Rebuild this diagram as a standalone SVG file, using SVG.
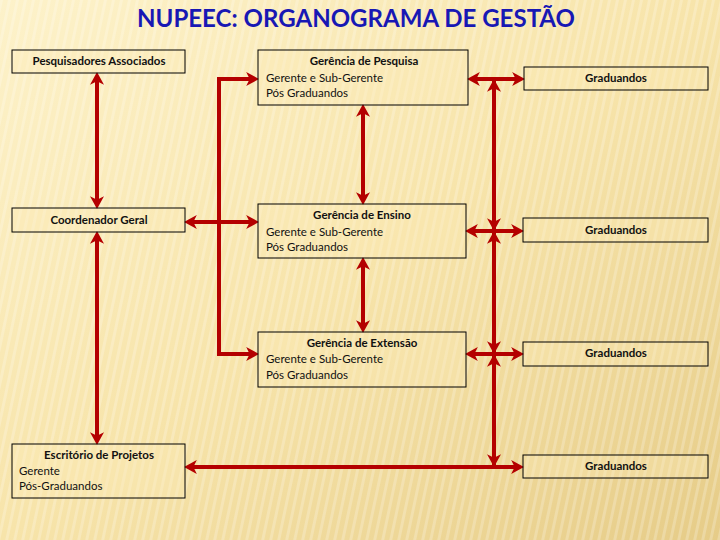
<svg xmlns="http://www.w3.org/2000/svg" width="720" height="540" viewBox="0 0 720 540">
<defs>
<linearGradient id="bg" x1="0" y1="0" x2="1" y2="1">
<stop offset="0" stop-color="#FDF2CA"/>
<stop offset="0.5" stop-color="#F7E4AA"/>
<stop offset="1" stop-color="#E6CC88"/>
</linearGradient>
<pattern id="stripes" width="8" height="540" patternUnits="userSpaceOnUse" patternTransform="skewX(-12)">
<rect x="0" y="0" width="3" height="540" fill="#FFFFFF" opacity="0.22"/>
</pattern>
<marker id="ah" markerUnits="userSpaceOnUse" markerWidth="14" markerHeight="14" viewBox="0 0 12 12" refX="5" refY="6" orient="auto-start-reverse">
<path d="M0,0 L11,6 L0,12 L3,6 Z" fill="#B40000"/>
</marker>
<style>
.box{fill:#FBEBB8;fill-opacity:0.35;stroke:#000;stroke-width:1}
.t{font-family:Lato,"Liberation Sans",Arial,sans-serif;font-size:11.5px;fill:#111}
.b{font-weight:bold}
.c{text-anchor:middle}
.con{fill:none;stroke:#B40000;stroke-width:4;marker-start:url(#ah);marker-end:url(#ah)}
.bus{fill:none;stroke:#B40000;stroke-width:4}
</style>
</defs>
<rect width="720" height="540" fill="url(#bg)"/>
<rect width="720" height="540" fill="url(#stripes)"/>
<text x="356" y="27" text-anchor="middle" font-family="Lato,'Liberation Sans',sans-serif" font-weight="bold" font-size="24" fill="#1818B4" textLength="438" lengthAdjust="spacingAndGlyphs">NUPEEC: ORGANOGRAMA DE GESTÃO</text>

<g id="connectors">
<line class="con" x1="97" y1="79" x2="97" y2="202"/>
<line class="con" x1="97" y1="238" x2="97" y2="438"/>
<line class="con" x1="191" y1="222" x2="252" y2="222"/>
<path class="con" d="M252,79 L219,79 L219,354 L252,354"/>
<line class="con" x1="363" y1="111" x2="363" y2="198"/>
<line class="con" x1="363" y1="264" x2="363" y2="326"/>
<line class="bus" x1="494" y1="79" x2="494" y2="467"/>
<line class="con" x1="494" y1="86" x2="494" y2="224"/>
<line class="con" x1="494" y1="238" x2="494" y2="347"/>
<line class="con" x1="494" y1="361" x2="494" y2="460"/>
<line class="con" x1="474" y1="79" x2="518" y2="79"/>
<line class="con" x1="472" y1="231" x2="517" y2="231"/>
<line class="con" x1="472" y1="354" x2="517" y2="354"/>
<line class="con" x1="191" y1="467" x2="517" y2="467"/>
</g>

<g id="pesquisadores">
<rect class="box" x="12" y="50" width="173" height="23"/>
<text class="t b c" x="99" y="65">Pesquisadores  Associados</text>
</g>
<g id="coordenador">
<rect class="box" x="12" y="208" width="173" height="24"/>
<text class="t b c" x="99" y="224">Coordenador Geral</text>
</g>
<g id="escritorio">
<rect class="box" x="12" y="444" width="173" height="54"/>
<text class="t b c" x="99" y="459">Escritório de Projetos</text>
<text class="t" x="19" y="475">Gerente</text>
<text class="t" x="19" y="490">Pós-Graduandos</text>
</g>
<g id="ger-pesquisa">
<rect class="box" x="258" y="50" width="210" height="55"/>
<text class="t b c" x="364" y="65">Gerência de Pesquisa</text>
<text class="t" x="266" y="82">Gerente e Sub-Gerente</text>
<text class="t" x="266" y="97">Pós Graduandos</text>
</g>
<g id="ger-ensino">
<rect class="box" x="258" y="204" width="208" height="54"/>
<text class="t b c" x="362" y="219">Gerência de Ensino</text>
<text class="t" x="266" y="236">Gerente e Sub-Gerente</text>
<text class="t" x="266" y="251">Pós Graduandos</text>
</g>
<g id="ger-extensao">
<rect class="box" x="258" y="332" width="208" height="55"/>
<text class="t b c" x="362" y="347">Gerência de Extensão</text>
<text class="t" x="266" y="363">Gerente e Sub-Gerente</text>
<text class="t" x="266" y="379">Pós Graduandos</text>
</g>
<g id="graduandos-1">
<rect class="box" x="524" y="67" width="184" height="23"/>
<text class="t b c" x="616" y="82">Graduandos</text>
</g>
<g id="graduandos-2">
<rect class="box" x="523" y="218" width="185" height="24"/>
<text class="t b c" x="616" y="234">Graduandos</text>
</g>
<g id="graduandos-3">
<rect class="box" x="523" y="342" width="185" height="24"/>
<text class="t b c" x="616" y="357">Graduandos</text>
</g>
<g id="graduandos-4">
<rect class="box" x="523" y="455" width="185" height="23"/>
<text class="t b c" x="616" y="470">Graduandos</text>
</g>
</svg>
